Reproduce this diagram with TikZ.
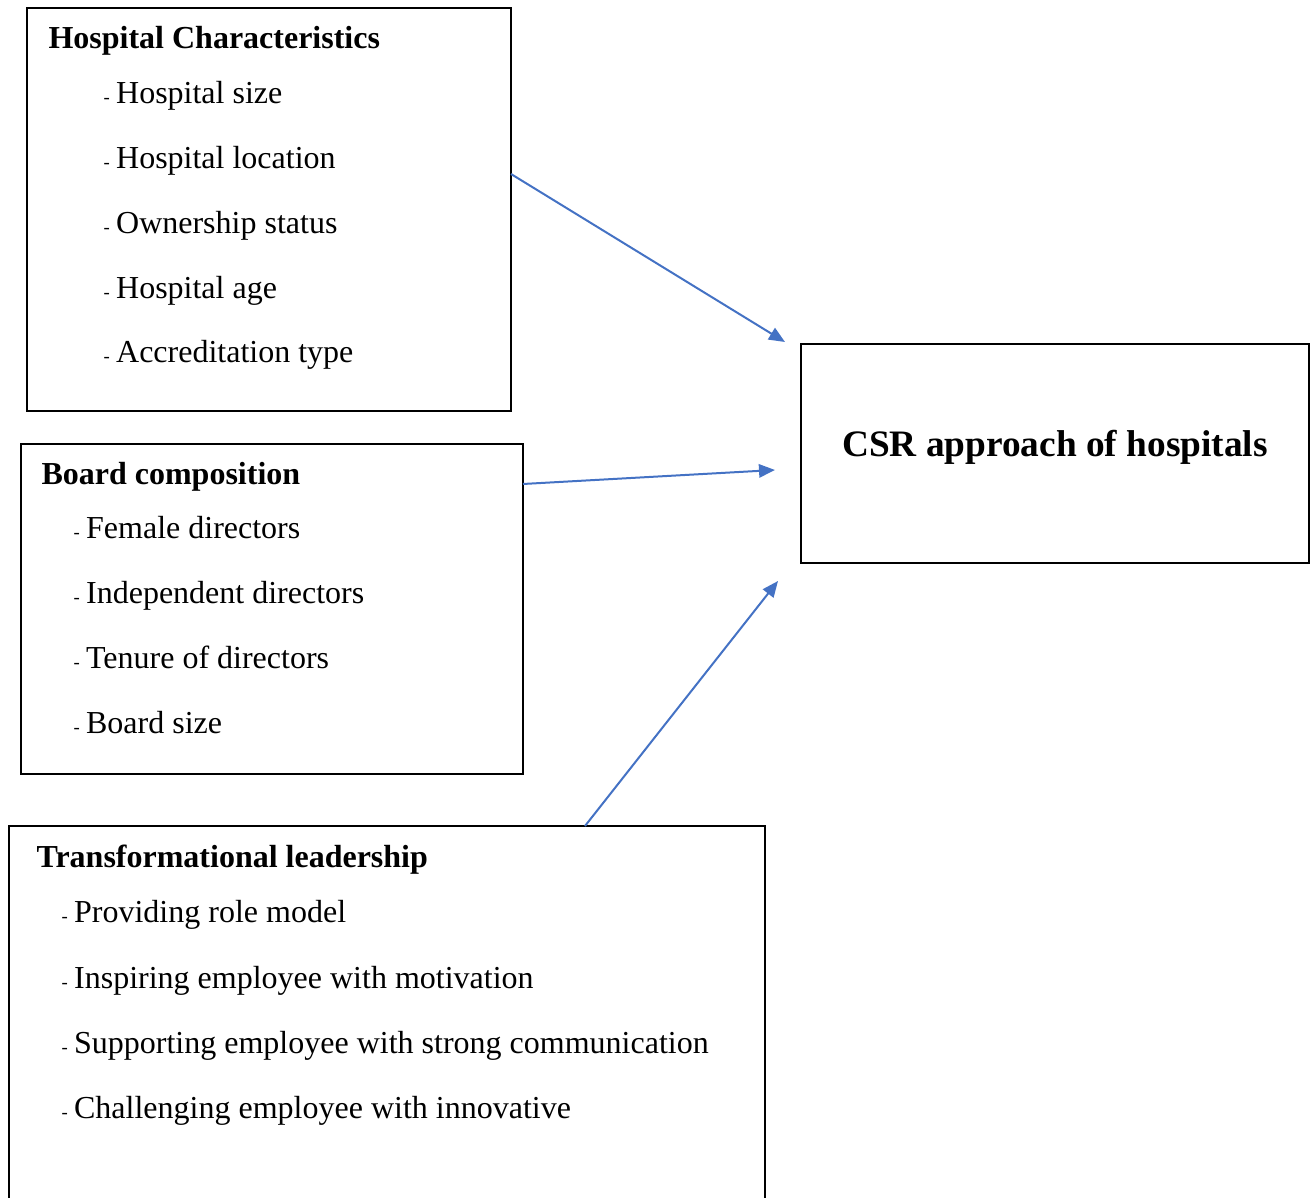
\documentclass[tikz,border=0pt]{standalone}
\usepackage{fontspec}
\setmainfont{Liberation Serif}
\usetikzlibrary{positioning, arrows.meta}

\definecolor{arrowblue}{RGB}{68,114,196}
\newcommand{\pxu}{0.375pt}
\newcommand{\bullt}{{\fontsize{7}{7}\selectfont -}\hspace{2.4pt}}

\begin{document}
\begin{tikzpicture}[
    x=0.375pt, y=-0.375pt,
    factor/.style={rectangle, draw, line width=0.75pt, inner sep=0pt, outer sep=0pt, anchor=north west},
    heading/.style={anchor=base west, inner sep=0pt, font=\fontsize{12}{14}\selectfont\bfseries},
    item/.style={anchor=base west, inner sep=0pt, font=\fontsize{12}{14}\selectfont},
    arrow/.style={-{Triangle[length=6pt, width=5pt]}, line width=0.75pt, arrowblue}
]
\useasboundingbox (0,0) rectangle (1316,1198);
\clip (0,0) rectangle (1316,1198);

% Boxes
\node (hosp) [factor, minimum width=484*\pxu, minimum height=403*\pxu] at (27,8) {};
\node (board) [factor, minimum width=502*\pxu, minimum height=330*\pxu] at (21,444) {};
\node (lead) [factor, minimum width=756*\pxu, minimum height=420*\pxu] at (9,826) {};
\node (csr) [factor, minimum width=508*\pxu, minimum height=219*\pxu] at (801,344) {};

% Hospital characteristics
\node (hosptitle) [heading] at (48,49) {Hospital Characteristics};
\foreach \txt [count=\i] in {Hospital size, Hospital location, Ownership status, Hospital age, Accreditation type}
    \node (hosp\i) [item] at (103,{104+64.75*(\i-1)}) {\bullt\txt};

% Board composition
\node (boardtitle) [heading] at (41,485) {Board composition};
\foreach \txt [count=\i] in {Female directors, Independent directors, Tenure of directors, Board size}
    \node (board\i) [item] at (73,{539+65*(\i-1)}) {\bullt\txt};

% Transformational leadership
\node (leadtitle) [heading] at (36,868) {Transformational leadership};
\foreach \txt [count=\i] in {Providing role model, Inspiring employee with motivation, Supporting employee with strong communication, Challenging employee with innovative}
    \node (lead\i) [item] at (61,{923+65*(\i-1)}) {\bullt\txt};

% CSR
\node (csrtitle) [anchor=base, inner sep=0pt, font=\fontsize{14}{17}\selectfont\bfseries] at (1055,457) {CSR approach of hospitals};

% Arrows
\coordinate (in1) at (785,342);
\coordinate (in2) at (775,470);
\coordinate (in3) at (778,581);
\draw [arrow] ([yshift=35.5*\pxu]hosp.east) -- (in1);
\draw [arrow] ([yshift=125*\pxu]board.east) -- (in2);
\draw [arrow] ([xshift=198*\pxu]lead.north) -- (in3);

\end{tikzpicture}
\end{document}
